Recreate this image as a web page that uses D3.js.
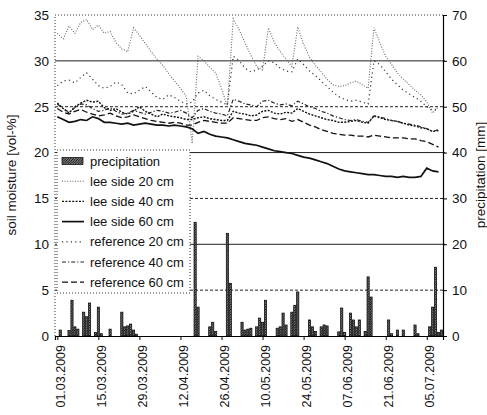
<!DOCTYPE html>
<html>
<head>
<meta charset="utf-8">
<script src="https://d3js.org/d3.v7.min.js"></script>
<style>
  body { margin: 0; background: #fff; }
  text { font-family: "Liberation Sans", Arial, sans-serif; fill: #111; }
</style>
</head>
<body>
<div id="chart"></div>
<script>
// soil moisture, sampled every second day
var dates = [
  "01.03.2009", "03.03.2009", "05.03.2009", "07.03.2009", "09.03.2009", "11.03.2009", "13.03.2009", "15.03.2009",
  "17.03.2009", "19.03.2009", "21.03.2009", "23.03.2009", "25.03.2009", "27.03.2009", "29.03.2009", "31.03.2009",
  "02.04.2009", "04.04.2009", "06.04.2009", "08.04.2009", "10.04.2009", "12.04.2009", "14.04.2009", "16.04.2009",
  "18.04.2009", "20.04.2009", "22.04.2009", "24.04.2009", "26.04.2009", "28.04.2009", "30.04.2009",
  "02.05.2009", "04.05.2009", "06.05.2009", "08.05.2009", "10.05.2009", "12.05.2009", "14.05.2009", "16.05.2009",
  "18.05.2009", "20.05.2009", "22.05.2009", "24.05.2009", "26.05.2009", "28.05.2009", "30.05.2009",
  "01.06.2009", "03.06.2009", "05.06.2009", "07.06.2009", "09.06.2009", "11.06.2009", "13.06.2009", "15.06.2009",
  "17.06.2009", "19.06.2009", "21.06.2009", "23.06.2009", "25.06.2009", "27.06.2009", "29.06.2009",
  "01.07.2009", "03.07.2009", "05.07.2009", "07.07.2009", "09.07.2009"
];
var leeSide20 = [33.0, 32.4, 33.8, 33.0, 34.2, 34.5, 33.4, 33.9, 33.0, 33.2, 32.0, 31.3, 31.0, 33.6, 32.8, 31.9,
  31.0, 30.2, 29.5, 28.6, 27.8, 27.0, 26.1, 21.0, 30.5, 30.0, 29.3, 28.7, 27.0, 25.0, 34.6,
  33.4, 32.0, 30.6, 29.4, 29.0, 33.6, 32.0, 31.0, 30.2, 29.4, 33.7, 31.8, 30.4, 29.5, 28.8,
  28.0, 27.4, 27.2, 27.3, 27.6, 27.8, 27.4, 27.0, 33.6, 32.0, 30.5, 29.6, 28.7, 28.0, 27.4,
  26.8, 26.3, 25.5, 24.3, 25.0];
var leeSide40 = [25.4, 24.8, 24.3, 25.0, 25.4, 25.7, 25.5, 25.6, 24.9, 24.6, 24.8, 24.4, 24.2, 24.5, 25.0, 24.5,
  24.2, 23.9, 24.2, 24.0, 23.9, 23.8, 23.6, 23.6, 23.8, 23.9, 23.7, 23.6, 23.5, 23.5, 24.5,
  24.3, 24.2, 24.0, 24.1, 24.5, 24.6, 24.3, 24.2, 24.4, 24.3, 24.8, 24.5, 24.2, 24.0, 23.8,
  23.6, 23.5, 23.3, 23.3, 23.4, 23.5, 23.3, 23.2, 24.0, 23.8, 23.6, 23.5, 23.4, 23.2, 23.0,
  22.9, 22.7, 22.6, 22.3, 22.4];
var leeSide60 = [23.9, 23.6, 23.3, 23.4, 23.6, 23.5, 23.9, 23.7, 23.3, 23.3, 23.2, 23.1, 23.2, 23.0, 23.1, 23.2,
  23.1, 23.0, 23.0, 22.9, 23.0, 22.9, 22.8, 22.6, 22.1, 22.3, 22.0, 21.8, 21.7, 21.6, 21.4,
  21.2, 21.0, 20.9, 20.8, 20.6, 20.4, 20.2, 20.1, 20.0, 19.9, 19.7, 19.5, 19.4, 19.2, 19.0,
  18.8, 18.5, 18.2, 18.0, 17.9, 17.8, 17.7, 17.6, 17.6, 17.5, 17.4, 17.4, 17.3, 17.4, 17.3,
  17.3, 17.4, 18.3, 18.0, 17.9];
var reference20 = [27.3, 27.8, 27.9, 27.6, 28.2, 28.7, 28.0, 27.3, 27.0, 27.2, 27.7, 27.4, 26.5, 26.4, 26.8, 27.2,
  26.6, 26.0, 25.8, 26.3, 26.0, 25.6, 25.3, 25.5, 26.5, 26.8, 26.2, 25.8, 25.5, 25.2, 30.5,
  30.0, 29.2, 28.8, 29.0, 29.4, 30.0, 29.8, 29.2, 28.9, 28.8, 30.2, 29.6, 28.9, 28.4, 27.8,
  27.2, 26.6, 26.1, 25.8, 25.6, 25.7, 25.5, 25.3, 30.0, 29.6, 28.8, 28.0, 27.4, 26.8, 26.4,
  26.0, 25.6, 25.0, 24.6, 24.8];
var reference40 = [25.3, 24.8, 24.4, 24.9, 25.3, 25.2, 24.8, 24.5, 24.6, 24.9, 24.5, 24.2, 24.3, 24.6, 24.4, 24.2,
  24.4, 24.6, 24.5, 24.3, 24.4, 24.6, 24.3, 23.8, 24.6, 24.8, 24.5, 24.3, 24.2, 24.0, 25.8,
  25.6, 25.3, 25.2, 25.0, 25.6, 25.7, 25.4, 25.2, 25.3, 25.1, 25.6, 25.3, 25.0, 24.8, 24.5,
  24.3, 24.0, 23.8, 23.6, 23.5, 23.6, 23.4, 23.3, 24.0, 23.9, 23.7, 23.5, 23.4, 23.2, 23.1,
  23.0, 22.8, 22.6, 22.3, 22.5];
var reference60 = [24.8, 24.4, 24.2, 24.5, 24.7, 24.4, 24.2, 24.0, 24.1, 24.3, 24.0, 23.8, 23.9, 24.1, 23.9, 23.7,
  23.5, 23.4, 23.3, 23.2, 23.3, 23.2, 23.0, 23.0, 23.3, 23.5, 23.4, 23.3, 23.2, 23.2, 23.8,
  23.7, 23.6, 23.5, 23.5, 23.8, 23.9, 23.7, 23.6, 23.7, 23.4, 23.6, 23.3, 23.0, 22.8, 22.5,
  22.3, 22.1, 22.0, 21.9, 21.9, 21.8, 21.8, 21.7, 21.9, 21.8, 21.7, 21.6, 21.6, 21.6, 21.5,
  21.5, 21.3, 21.2, 20.9, 20.6];

// daily precipitation (days without rain left out)
var precipDates = [
  "02.03.2009", "05.03.2009", "06.03.2009", "07.03.2009", "08.03.2009", "10.03.2009", "11.03.2009", "12.03.2009",
  "14.03.2009", "15.03.2009", "16.03.2009", "19.03.2009", "23.03.2009", "24.03.2009", "25.03.2009", "26.03.2009",
  "27.03.2009", "28.03.2009", "17.04.2009", "18.04.2009", "22.04.2009", "23.04.2009", "24.04.2009", "28.04.2009",
  "29.04.2009", "03.05.2009", "04.05.2009", "05.05.2009", "06.05.2009", "08.05.2009", "09.05.2009", "10.05.2009",
  "11.05.2009", "15.05.2009", "16.05.2009", "17.05.2009", "18.05.2009", "20.05.2009", "21.05.2009", "22.05.2009",
  "26.05.2009", "27.05.2009", "28.05.2009", "30.05.2009", "31.05.2009", "01.06.2009", "05.06.2009", "06.06.2009",
  "07.06.2009", "09.06.2009", "10.06.2009", "11.06.2009", "12.06.2009", "14.06.2009", "15.06.2009", "16.06.2009",
  "22.06.2009", "23.06.2009", "25.06.2009", "27.06.2009", "01.07.2009", "02.07.2009", "06.07.2009", "07.07.2009",
  "08.07.2009", "09.07.2009", "10.07.2009"
];
var precipValues = [1.3, 1.2, 7.8, 2.0, 1.5, 5.2, 4.2, 7.2, 0.8, 6.3, 0.5, 1.5, 5.2, 2.0, 2.2, 2.6,
  1.3, 0.4, 24.8, 6.3, 2.0, 3.0, 1.0, 22.4, 11.5, 3.0, 1.3, 1.5, 1.7, 2.0, 3.9, 3.0,
  7.8, 1.7, 2.0, 5.0, 2.4, 5.2, 6.7, 9.6, 3.5, 2.0, 1.0, 2.0, 2.4, 2.2, 0.9, 6.1,
  0.8, 5.0, 3.5, 2.0, 3.5, 1.0, 12.9, 8.5, 3.5, 0.5, 1.3, 1.3, 2.4, 0.5, 2.0, 6.3,
  15.0, 0.8, 1.3];

var tickDates = ["01.03.2009", "15.03.2009", "29.03.2009", "12.04.2009", "26.04.2009",
  "10.05.2009", "24.05.2009", "07.06.2009", "21.06.2009", "05.07.2009"];
var moistureTicks = [0, 5, 10, 15, 20, 25, 30, 35];
var precipTicks = [0, 10, 20, 30, 40, 50, 60, 70];

var parseDate = d3.utcParse("%d.%m.%Y");

// line styles for the six series
var series = [
  { name: "lee side 20 cm", values: leeSide20, dash: "1,1.6", color: "#666", w: 1.1 },
  { name: "lee side 40 cm", values: leeSide40, dash: "2,1.4", color: "#111", w: 1.4 },
  { name: "lee side 60 cm", values: leeSide60, dash: null, color: "#111", w: 1.7 },
  { name: "reference 20 cm", values: reference20, dash: "1.2,3.2", color: "#333", w: 1.2 },
  { name: "reference 40 cm", values: reference40, dash: "4,2,1.2,2", color: "#222", w: 1.2 },
  { name: "reference 60 cm", values: reference60, dash: "6,3", color: "#111", w: 1.3 }
];

var margin = { top: 15, right: 44, bottom: 79, left: 55 },
  width = 487 - margin.left - margin.right,
  height = 415 - margin.top - margin.bottom;

var svg = d3
  .select("#chart")
  .append("svg")
  .attr("width", width + margin.left + margin.right)
  .attr("height", height + margin.top + margin.bottom)
  .append("g")
  .attr("transform", "translate(" + margin.left + "," + margin.top + ")");

// hatch for the precipitation bars
var pattern = svg
  .append("defs")
  .append("pattern")
  .attr("id", "hatch")
  .attr("patternUnits", "userSpaceOnUse")
  .attr("width", 2.5)
  .attr("height", 2.5);
pattern.append("rect").attr("width", 2.5).attr("height", 2.5).attr("fill", "#fff");
pattern
  .append("path")
  .attr("d", "M-1,1 l2,-2 M0,2.5 l2.5,-2.5 M1.5,3.5 l2,-2")
  .attr("stroke", "#000")
  .attr("stroke-width", 1.2);

// scales
var x = d3
  .scaleUtc()
  .domain([new Date(Date.UTC(2009, 1, 28, 5)), new Date(Date.UTC(2009, 6, 10, 13))])
  .range([0, width]);
var y = d3.scaleLinear().domain([0, 35]).range([height, 0]);
var y2 = d3.scaleLinear().domain([0, 70]).range([height, 0]);

// gridlines
svg
  .selectAll(".grid")
  .data([5, 10, 15, 20, 25, 30])
  .enter()
  .append("line")
  .attr("x1", 0)
  .attr("x2", width + 2)
  .attr("y1", (d) => y(d))
  .attr("y2", (d) => y(d))
  .attr("stroke", "#222")
  .attr("stroke-width", 1)
  .attr("stroke-dasharray", (d) => (d % 10 === 0 ? null : "3,2"));

// plot border: dotted top and left
svg
  .append("path")
  .attr("d", "M0," + height + "V0H" + width)
  .attr("fill", "none")
  .attr("stroke", "#333")
  .attr("stroke-dasharray", "1,2");

// precipitation bars
var rain = precipDates.map(function (d, i) {
  return { date: parseDate(d), value: precipValues[i] };
});
svg
  .selectAll(".bar")
  .data(rain)
  .enter()
  .append("rect")
  .attr("class", "bar")
  .attr("x", (d) => x(d.date) - 1.1)
  .attr("width", 2.2)
  .attr("y", (d) => y2(d.value))
  .attr("height", (d) => height - y2(d.value))
  .attr("fill", "url(#hatch)")
  .attr("stroke", "#000")
  .attr("stroke-width", 0.7);

// soil moisture lines
var line = d3
  .line()
  .x((d, i) => x(parseDate(dates[i])))
  .y((d) => y(d));

svg
  .selectAll(".line")
  .data(series)
  .enter()
  .append("path")
  .attr("class", "line")
  .attr("fill", "none")
  .attr("stroke", (d) => d.color)
  .attr("stroke-width", (d) => d.w)
  .attr("stroke-dasharray", (d) => d.dash)
  .attr("d", (d) => line(d.values));

// Add the X Axis
var xaxis = svg
  .append("g")
  .attr("transform", "translate(0," + height + ")")
  .call(
    d3
      .axisBottom(x)
      .tickValues(tickDates.map(parseDate))
      .tickSize(4)
      .tickFormat(d3.utcFormat("%d.%m.%Y"))
  );
xaxis.select(".domain").attr("stroke", "#000").attr("stroke-width", 1.2);
xaxis.selectAll(".tick line").attr("stroke", "#000");
xaxis
  .selectAll("text")
  .attr("transform", "rotate(-90)")
  .attr("x", -9)
  .attr("y", 2.5)
  .attr("dy", ".35em")
  .style("text-anchor", "end")
  .style("font-size", "12.5px");

// Add the left Y Axis
var yaxis = svg
  .append("g")
  .call(d3.axisLeft(y).tickValues(moistureTicks).tickSize(0).tickPadding(6));
yaxis.select(".domain").remove();
yaxis.selectAll("text").style("font-size", "13.5px");

// Add the right Y Axis
var yaxis2 = svg
  .append("g")
  .attr("transform", "translate(" + width + ",0)")
  .call(d3.axisRight(y2).tickValues(precipTicks).tickSize(4).tickPadding(5));
yaxis2.select(".domain").attr("stroke", "#000").attr("stroke-width", 1.2);
yaxis2.selectAll("text").style("font-size", "13.5px");

// axis titles
svg
  .append("text")
  .attr("transform", "rotate(-90)")
  .attr("x", 0 - (175 - margin.top))
  .attr("y", 11 - margin.left)
  .attr("dy", ".35em")
  .style("text-anchor", "middle")
  .style("font-size", "13.5px")
  .text("soil moisture [vol-%]");

svg
  .append("text")
  .attr("transform", "rotate(-90)")
  .attr("x", 0 - (175 - margin.top))
  .attr("y", 480 - margin.left)
  .attr("dy", ".35em")
  .style("text-anchor", "middle")
  .style("font-size", "13.5px")
  .text("precipitation [mm]");

// LEGEND
var legend = svg.append("g").attr("transform", "translate(2,135)");
legend
  .append("rect")
  .attr("width", 133)
  .attr("height", 143)
  .attr("fill", "#fff")
  .attr("stroke", "#333")
  .attr("stroke-dasharray", "1,2");

var rowY = function (i) {
  return 11 + i * 20.2;
};

legend
  .append("rect")
  .attr("x", 5)
  .attr("y", rowY(0) - 3.5)
  .attr("width", 21)
  .attr("height", 7)
  .attr("fill", "url(#hatch)")
  .attr("stroke", "#000")
  .attr("stroke-width", 0.7);

legend
  .selectAll(".swatch")
  .data(series)
  .enter()
  .append("line")
  .attr("x1", 5)
  .attr("x2", 27)
  .attr("y1", (d, i) => rowY(i + 1))
  .attr("y2", (d, i) => rowY(i + 1))
  .attr("stroke", (d) => d.color)
  .attr("stroke-width", (d) => d.w)
  .attr("stroke-dasharray", (d) => d.dash);

legend
  .selectAll(".label")
  .data(["precipitation"].concat(series.map((d) => d.name)))
  .enter()
  .append("text")
  .attr("x", 33)
  .attr("y", (d, i) => rowY(i))
  .attr("dy", ".35em")
  .style("font-size", "13px")
  .text((d) => d);
</script>
</body>
</html>
